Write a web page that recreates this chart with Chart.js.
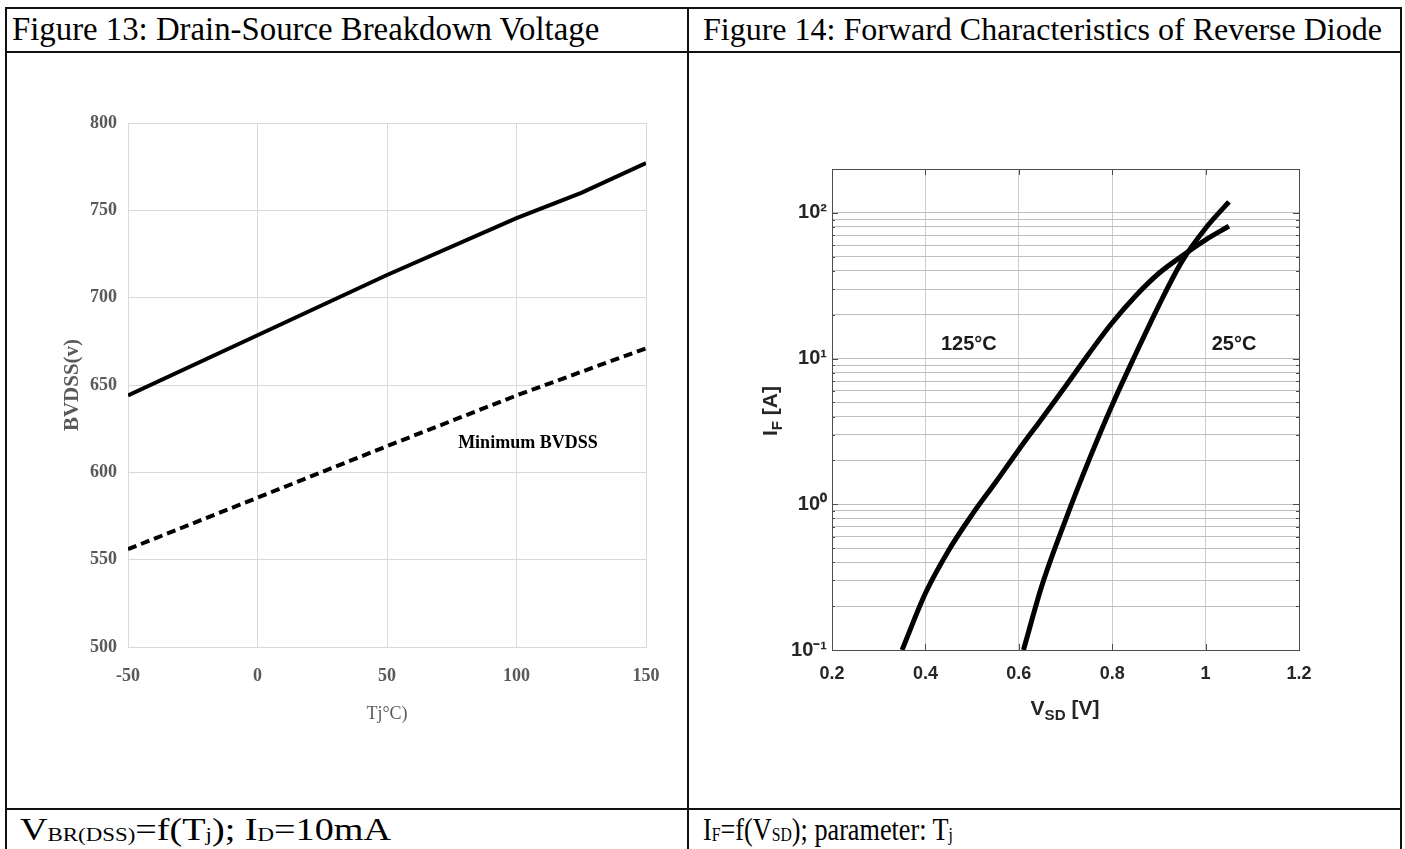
<!DOCTYPE html>
<html>
<head>
<meta charset="utf-8">
<script src="https://cdn.jsdelivr.net/npm/chart.js@4.4.1/dist/chart.umd.min.js"></script>
<style>
html,body{margin:0;padding:0;background:#fff;}
body{width:1405px;height:849px;position:relative;overflow:hidden;font-family:"Liberation Serif","Times New Roman",serif;}
.hl{position:absolute;background:#111;height:2px;}
.vl{position:absolute;background:#111;width:2px;}
.cap{position:absolute;font-size:32px;color:#000;white-space:nowrap;line-height:32px;}
.foot{position:absolute;font-size:32px;color:#000;white-space:nowrap;line-height:32px;transform-origin:0 50%;}
.foot sub{font-size:60%;vertical-align:-0.04em;line-height:0;}
canvas{position:absolute;}
.ax{position:absolute;font-family:"Liberation Sans",Arial,sans-serif;font-weight:bold;font-size:21px;color:#262626;text-align:center;white-space:nowrap;line-height:24px;}
.ax sub{font-size:72%;vertical-align:-0.35em;line-height:0;}
</style>
</head>
<body>
<div class="hl" style="left:5px;top:7px;width:1397px;"></div>
<div class="hl" style="left:5px;top:51px;width:1397px;"></div>
<div class="hl" style="left:5px;top:808px;width:1397px;"></div>
<div class="vl" style="left:5px;top:7px;height:842px;"></div>
<div class="vl" style="left:687px;top:7px;height:842px;"></div>
<div class="vl" style="left:1400px;top:7px;height:842px;"></div>

<div class="cap" style="left:12px;top:13px;font-size:32.8px;">Figure 13: Drain-Source Breakdown Voltage</div>
<div class="cap" style="left:703px;top:13px;">Figure 14: Forward Characteristics of Reverse Diode</div>
<div class="foot" data-w="371" style="left:20px;top:813px;">V<sub>BR(DSS)</sub>=f(T<sub>j</sub>); I<sub>D</sub>=10mA</div>
<div class="foot" data-w="250" style="left:703px;top:813px;">I<sub>F</sub>=f(V<sub>SD</sub>); parameter: T<sub>j</sub></div>

<canvas id="left" width="640" height="640" style="left:40px;top:100px;"></canvas>
<canvas id="right" width="660" height="620" style="left:700px;top:120px;"></canvas>

<div class="ax" style="left:965px;top:696px;width:200px;">V<sub>SD</sub> [V]</div>
<div class="ax" style="left:710px;top:399px;width:120px;transform:rotate(-90deg);">I<sub>F</sub> [A]</div>

<script>
// ---------- Figure 13 data ----------
const tjValues = [-50, 0, 50, 100, 125, 150];
const bvdssTypical = [644, 678.5, 713, 745.5, 760, 777];
const tjMinValues = [-50, 0, 50, 100, 150];
const bvdssMinimum = [556, 585.5, 615, 644, 671];
const leftXTicks = [-50, 0, 50, 100, 150];
const leftYTicks = [500, 550, 600, 650, 700, 750, 800];
const leftXTitle = 'Tj°C)';
const leftYTitle = 'BVDSS(v)';
const leftNote = 'Minimum BVDSS';

// ---------- Figure 14 data ----------
const vsd125 = [0.35, 0.40, 0.45, 0.50, 0.55, 0.60, 0.65, 0.70, 0.75, 0.80, 0.85, 0.90, 0.95, 1.00, 1.05];
const if125  = [0.1, 0.245, 0.484, 0.85, 1.41, 2.37, 3.9, 6.46, 10.8, 17.6, 26.9, 38.5, 50.7, 65.3, 81];
const vsd25  = [0.61, 0.65, 0.70, 0.75, 0.80, 0.85, 0.90, 0.95, 1.00, 1.05];
const if25   = [0.1, 0.28, 0.78, 2.0, 4.8, 10.7, 23.2, 46.8, 78.5, 119];
const rightXTicks = [0.2, 0.4, 0.6, 0.8, 1, 1.2];
const rightXTickLabels = ['0.2', '0.4', '0.6', '0.8', '1', '1.2'];
const rightYGridValues = [0.1,0.2,0.3,0.4,0.5,0.6,0.7,0.8,0.9,1,2,3,4,5,6,7,8,9,10,20,30,40,50,60,70,80,90,100,200];
const rightYMajorTicks = [0.1, 1, 10, 100];
const rightYTickLabels = ['10⁻¹', '10⁰', '10¹', '10²'];
const curveLabels = ['125°C', '25°C'];

// ---------- footer width fitting ----------
document.querySelectorAll('.foot').forEach(el => {
  const target = parseFloat(el.dataset.w);
  const w = el.getBoundingClientRect().width;
  if (w > 0) el.style.transform = 'scaleX(' + (target / w) + ')';
});

// ---------- helpers ----------
const toPts = (xs, ys) => xs.map((x, i) => ({x: x, y: ys[i]}));

const textPlugin = {
  id: 'textNotes',
  afterDatasetsDraw(chart, args, opts) {
    const ctx = chart.ctx;
    const xs = chart.scales.x, ys = chart.scales.y;
    ctx.save();
    (opts.items || []).forEach(it => {
      ctx.font = it.font;
      ctx.fillStyle = it.color;
      ctx.textAlign = 'center';
      ctx.textBaseline = 'middle';
      ctx.fillText(it.text, xs.getPixelForValue(it.x), ys.getPixelForValue(it.y));
    });
    ctx.restore();
  }
};

const framePlugin = {
  id: 'frame',
  afterDatasetsDraw(chart, args, opts) {
    if (!opts.enabled) return;
    const ctx = chart.ctx, a = chart.chartArea;
    const xs = chart.scales.x, ys = chart.scales.y;
    ctx.save();
    ctx.strokeStyle = '#4d4d4d';
    ctx.lineWidth = 1;
    ctx.beginPath();
    rightXTicks.forEach(v => {
      const p = Math.round(xs.getPixelForValue(v)) + 0.5;
      ctx.moveTo(p, a.top); ctx.lineTo(p, a.top + 6);
      ctx.moveTo(p, a.bottom); ctx.lineTo(p, a.bottom - 6);
    });
    rightYGridValues.forEach(v => {
      const p = Math.round(ys.getPixelForValue(v)) + 0.5;
      const len = rightYMajorTicks.includes(v) ? 6 : 3;
      ctx.moveTo(a.left, p); ctx.lineTo(a.left + len, p);
      ctx.moveTo(a.right, p); ctx.lineTo(a.right - len, p);
    });
    ctx.stroke();
    ctx.strokeRect(Math.round(a.left) + 0.5, Math.round(a.top) + 0.5, Math.round(a.right - a.left), Math.round(a.bottom - a.top));
    ctx.restore();
  }
};

// ---------- Figure 13 chart ----------
const serif = 'Liberation Serif';
new Chart(document.getElementById('left'), {
  type: 'line',
  data: {
    datasets: [
      {label: 'BVDSS', data: toPts(tjValues, bvdssTypical), borderColor: '#000', borderWidth: 4, pointRadius: 0, tension: 0, fill: false},
      {label: 'Minimum BVDSS', data: toPts(tjMinValues, bvdssMinimum), borderColor: '#000', borderWidth: 4, borderDash: [9, 5], pointRadius: 0, tension: 0, fill: false}
    ]
  },
  options: {
    responsive: false, animation: false, devicePixelRatio: 1,
    layout: {padding: {left: 0, top: 23, right: 34, bottom: 15}},
    plugins: {
      legend: {display: false}, tooltip: {enabled: false},
      textNotes: {items: [{text: leftNote, x: 104.4, y: 616.8, font: 'bold 18px "Liberation Serif"', color: '#000'}]},
      frame: {enabled: false}
    },
    scales: {
      x: {
        type: 'linear', min: -50, max: 150,
        afterBuildTicks: s => { s.ticks = leftXTicks.map(v => ({value: v})); },
        afterFit: s => { s.height = 78; },
        grid: {color: '#d9d9d9', drawTicks: false, lineWidth: 1},
        border: {color: '#d9d9d9'},
        ticks: {padding: 19, color: '#595959', font: {family: serif, size: 18, weight: 'bold'}, callback: v => String(v)},
        title: {display: true, text: leftXTitle, color: '#595959', font: {family: serif, size: 18}, padding: 0}
      },
      y: {
        type: 'linear', min: 500, max: 800,
        afterBuildTicks: s => { s.ticks = leftYTicks.map(v => ({value: v})); },
        afterFit: s => { s.width = 88; },
        grid: {color: '#d9d9d9', drawTicks: false, lineWidth: 1},
        border: {color: '#d9d9d9'},
        ticks: {padding: 11, color: '#595959', font: {family: serif, size: 18, weight: 'bold'}, callback: v => String(v)},
        title: {display: true, text: leftYTitle, color: '#595959', font: {family: serif, size: 21, weight: 'bold'}, padding: {top: 20, bottom: 0}}
      }
    }
  },
  plugins: [textPlugin, framePlugin]
});

// ---------- Figure 14 chart ----------
const sans = 'Liberation Sans';
new Chart(document.getElementById('right'), {
  type: 'scatter',
  data: {
    datasets: [
      {label: '125°C', data: toPts(vsd125, if125), showLine: true, borderColor: '#000', borderWidth: 5, pointRadius: 0, cubicInterpolationMode: 'monotone', fill: false},
      {label: '25°C', data: toPts(vsd25, if25), showLine: true, borderColor: '#000', borderWidth: 5, pointRadius: 0, cubicInterpolationMode: 'monotone', fill: false}
    ]
  },
  options: {
    responsive: false, animation: false, devicePixelRatio: 1,
    layout: {padding: {left: 0, top: 49, right: 61, bottom: 40}},
    plugins: {
      legend: {display: false}, tooltip: {enabled: false},
      textNotes: {items: [
        {text: curveLabels[0], x: 0.493, y: 12.5, font: 'bold 20px "Liberation Sans"', color: '#1a1a1a'},
        {text: curveLabels[1], x: 1.061, y: 12.5, font: 'bold 20px "Liberation Sans"', color: '#1a1a1a'}
      ]},
      frame: {enabled: true}
    },
    scales: {
      x: {
        type: 'linear', min: 0.2, max: 1.2,
        afterBuildTicks: s => { s.ticks = rightXTicks.map(v => ({value: v})); },
        afterFit: s => { s.height = 50; },
        grid: {color: '#cccccc', drawTicks: false, lineWidth: 1},
        border: {color: '#4d4d4d'},
        ticks: {padding: 13, color: '#262626', font: {family: sans, size: 18, weight: 'bold'},
          callback: (v, i) => rightXTickLabels[i]}
      },
      y: {
        type: 'logarithmic', min: 0.1, max: 200,
        afterBuildTicks: s => { s.ticks = rightYGridValues.map(v => ({value: v})); },
        afterFit: s => { s.width = 132; },
        grid: {color: '#bdbdbd', drawTicks: false, lineWidth: 1},
        border: {color: '#4d4d4d'},
        ticks: {padding: 5, autoSkip: false, color: '#262626', font: {family: sans, size: 20, weight: 'bold'},
          callback: v => { const k = rightYMajorTicks.findIndex(m => Math.abs(m - v) / m < 1e-6); return k >= 0 ? rightYTickLabels[k] : ''; }}
      }
    }
  },
  plugins: [textPlugin, framePlugin]
});
</script>
</body>
</html>
